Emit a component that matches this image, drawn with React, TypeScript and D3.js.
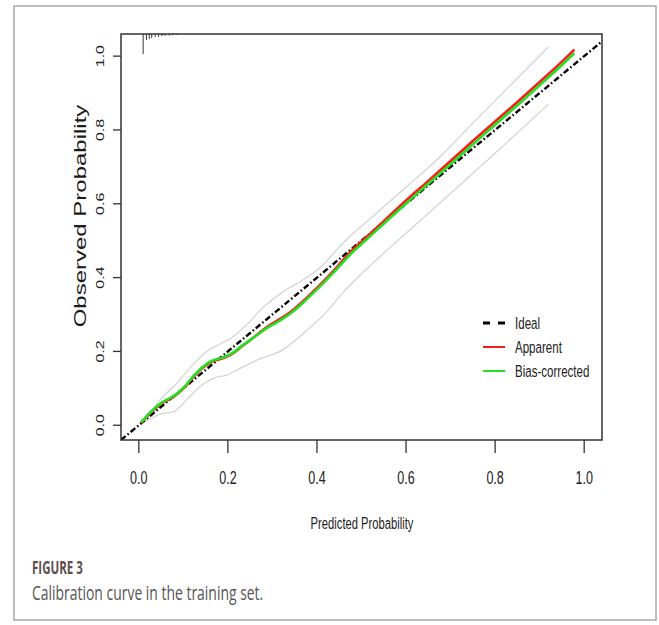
import React from 'react';
import * as d3 from 'd3';

const W = 659;
const H = 625;

// axis ticks
const xTicks = [0, 0.2, 0.4, 0.6, 0.8, 1.0];
const yTicks = [0, 0.2, 0.4, 0.6, 0.8, 1.0];

// calibration curves (predicted -> observed)
const curveX = [0.005, 0.03, 0.055, 0.077, 0.1, 0.122, 0.145, 0.163, 0.19, 0.205, 0.234, 0.264, 0.29, 0.32, 0.347, 0.375, 0.4, 0.444, 0.474, 0.5, 0.55, 0.6, 0.65, 0.7, 0.75, 0.8, 0.85, 0.9, 0.95, 0.978];
const apparentY = [0.006, 0.038, 0.062, 0.076, 0.099, 0.13, 0.157, 0.172, 0.182, 0.19, 0.216, 0.244, 0.268, 0.29, 0.313, 0.343, 0.372, 0.427, 0.468, 0.497, 0.553, 0.609, 0.662, 0.716, 0.77, 0.823, 0.876, 0.93, 0.985, 1.018];
const biasY = [0.007, 0.04, 0.064, 0.078, 0.101, 0.132, 0.159, 0.174, 0.184, 0.192, 0.217, 0.243, 0.265, 0.286, 0.309, 0.339, 0.368, 0.422, 0.462, 0.491, 0.546, 0.601, 0.654, 0.707, 0.761, 0.814, 0.867, 0.921, 0.976, 1.008];

// grey bands
const upperX = [0.01, 0.028, 0.047, 0.085, 0.122, 0.152, 0.182, 0.212, 0.242, 0.28, 0.324, 0.37, 0.41, 0.444, 0.474, 0.52, 0.6, 0.676, 0.751, 0.85, 0.92];
const upperY = [0.012, 0.036, 0.068, 0.113, 0.165, 0.2, 0.22, 0.24, 0.272, 0.32, 0.362, 0.395, 0.43, 0.475, 0.512, 0.56, 0.645, 0.727, 0.82, 0.94, 1.025];
const lowerX = [0.013, 0.055, 0.077, 0.107, 0.137, 0.167, 0.197, 0.234, 0.264, 0.324, 0.38, 0.42, 0.459, 0.5, 0.6, 0.676, 0.8, 0.92];
const lowerY = [0.01, 0.032, 0.036, 0.068, 0.104, 0.127, 0.136, 0.158, 0.176, 0.205, 0.26, 0.305, 0.36, 0.41, 0.52, 0.602, 0.737, 0.87];

// spike histogram of predictions along the top
const rugX = [0.0097, 0.017, 0.0234, 0.029, 0.0366, 0.0443, 0.0517, 0.0591, 0.0681, 0.0757, 0.0847];
const rugFreq = [100, 30, 25, 20, 15, 14, 10, 9, 8, 6, 5];

const legendLabels = ['Ideal', 'Apparent', 'Bias-corrected'];
const legendColors = ['#000', '#ff1a1a', '#22e022'];

const SQ = 0.68; // horizontal squeeze of the original picture
const FONT = '"Liberation Sans", Arial, sans-serif';

const App: React.FC = () => {
  const x = d3.scaleLinear().domain([-0.04, 1.04]).range([121, 602]);
  const y = d3.scaleLinear().domain([-0.04, 1.06]).range([440, 34]);
  const [x0, x1] = x.range();
  const [y0, y1] = y.range();

  const line = d3.line<[number, number]>()
    .x(d => x(d[0]))
    .y(d => y(d[1]))
    .curve(d3.curveMonotoneX);

  const zip = (xs: number[], ys: number[]) => xs.map((v, i) => [v, ys[i]] as [number, number]);

  const hText = (tx: number, ty: number, s: string, size: number, anchor = 'middle') => (
    <text
      transform={`translate(${tx},${ty}) scale(${SQ},1)`}
      textAnchor={anchor}
      fontSize={size}
      fontFamily={FONT}
      fill="#222"
    >
      {s}
    </text>
  );

  const vText = (tx: number, ty: number, s: string, size: number, color = '#222') => (
    <text
      transform={`translate(${tx},${ty}) rotate(-90) scale(1,${SQ})`}
      textAnchor="middle"
      fontSize={size}
      fontFamily={FONT}
      fill={color}
    >
      {s}
    </text>
  );

  const legX = 483;
  const legY = [323, 347, 371];

  return (
    <svg width={W} height={H} style={{ position: 'absolute', left: 0, top: 0, background: '#fff' }}>
      <defs>
        <clipPath id="plotClip">
          <rect x={x0} y={y1} width={x1 - x0} height={y0 - y1} />
        </clipPath>
      </defs>

      {/* outer frame */}
      <rect x={14} y={6} width={642} height={614} fill="none" stroke="#a8a8a8" strokeWidth={1.5} />

      {/* grey bands */}
      <path d={line(zip(upperX, upperY)) || ''} fill="none" stroke="#d4d4d4" strokeWidth={1.3} />
      <path d={line(zip(lowerX, lowerY)) || ''} fill="none" stroke="#d4d4d4" strokeWidth={1.3} />

      {/* ideal */}
      <line
        clipPath="url(#plotClip)"
        x1={x(-0.04)} y1={y(-0.04)} x2={x(1.1)} y2={y(1.1)}
        stroke="#000" strokeWidth={2.4} strokeDasharray="6,2.5,1.5,2.5"
      />

      {/* apparent & bias-corrected */}
      <path d={line(zip(curveX, apparentY)) || ''} fill="none" stroke={legendColors[1]} strokeWidth={2.6} />
      <path d={line(zip(curveX, biasY)) || ''} fill="none" stroke={legendColors[2]} strokeWidth={2.6} />

      {/* spike histogram */}
      {rugX.map((v, i) => (
        <line key={i} x1={x(v)} x2={x(v)} y1={y1} y2={y1 + rugFreq[i] * 0.2} stroke="#333" strokeWidth={1} />
      ))}

      {/* box */}
      <rect x={x0} y={y1} width={x1 - x0} height={y0 - y1} fill="none" stroke="#333" strokeWidth={1.5} />

      {/* x axis */}
      {xTicks.map(t => (
        <g key={t}>
          <line x1={x(t)} x2={x(t)} y1={y0} y2={y0 + 13} stroke="#333" strokeWidth={1.3} />
          {hText(x(t), 484, t.toFixed(1), 18.5)}
        </g>
      ))}
      {hText(362, 529, 'Predicted Probability', 16.5)}

      {/* y axis */}
      {yTicks.map(t => (
        <g key={t}>
          <line x1={x0 - 8} x2={x0} y1={y(t)} y2={y(t)} stroke="#333" strokeWidth={1.3} />
          {vText(104, y(t), t.toFixed(1), 16)}
        </g>
      ))}
      {vText(86, 216, 'Observed Probability', 24, '#1a1a1a')}

      {/* legend */}
      {legendLabels.map((lab, i) => (
        <g key={lab}>
          <line
            x1={legX} x2={legX + 22} y1={legY[i]} y2={legY[i]}
            stroke={legendColors[i]}
            strokeWidth={i === 0 ? 3.2 : 2}
            strokeDasharray={i === 0 ? '7,8' : undefined}
          />
          {hText(515, legY[i] + 6, lab, 17, 'start')}
        </g>
      ))}

      {/* caption */}
      <text
        transform={`translate(32,574) scale(${SQ},1)`}
        fontSize={17}
        fontWeight={700}
        fontFamily='"Open Sans", sans-serif'
        fill="#5e4f4b"
      >
        FIGURE 3
      </text>
      <text
        transform={`translate(32,600) scale(${SQ},1)`}
        fontSize={20.5}
        fontFamily='"Open Sans", sans-serif'
        fill="#555"
      >
        Calibration curve in the training set.
      </text>
    </svg>
  );
};

export default App;
